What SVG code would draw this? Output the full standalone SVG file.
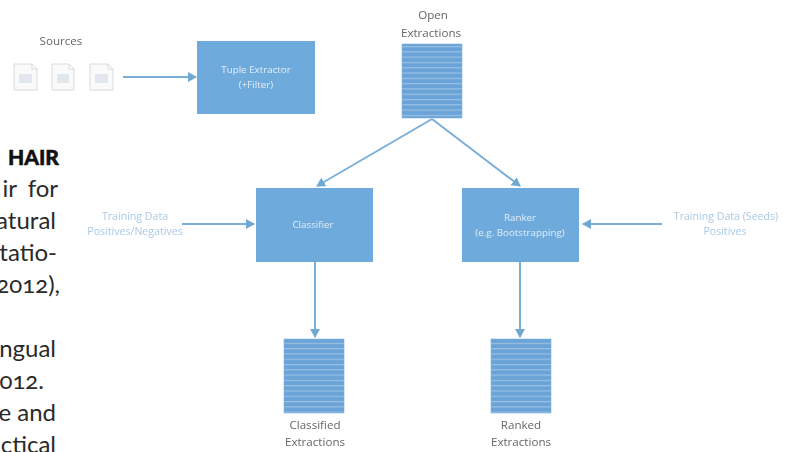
<svg xmlns="http://www.w3.org/2000/svg" width="795" height="452" viewBox="0 0 795 452">
<defs>
<marker id="ah" markerWidth="4.5" markerHeight="5" refX="4" refY="2.5" orient="auto" markerUnits="strokeWidth"><path d="M0 0L4.5 2.5L0 5z" fill="#6fa8d4"/></marker>
<pattern id="st" width="10" height="5.3" patternUnits="userSpaceOnUse"><rect width="10" height="5.3" fill="#69a3d7"/><rect y="3.6" width="10" height="1.1" fill="#a0c4e4"/></pattern>
<filter id="b" x="-10%" y="-20%" width="120%" height="140%"><feGaussianBlur stdDeviation="0.55"/></filter>
</defs>
<style>
.t{font-family:"Open Sans","Liberation Sans",sans-serif;font-size:11.6px;text-anchor:middle;fill:#666}
.w{fill:#e3eef8;font-size:9.8px}
.l{fill:#a9c9e6;font-size:10.6px}
.box{fill:#6eaadc}
.stack{fill:url(#st);stroke:#7fb2dd;stroke-width:.6}
.c{stroke:#7aafd9;stroke-width:2;fill:none;marker-end:url(#ah)}
.doc{fill:#fafafa;stroke:#dadada;stroke-width:1}
.in{fill:#e1e7ec}
.body{font-family:"Lato","Liberation Sans",sans-serif;font-size:24px;fill:#2a2a2a;text-anchor:end;font-feature-settings:"onum"}
</style>
<rect width="795" height="452" fill="#fff"/>
<g id="page-text">
<text x="59" y="165" text-anchor="end" font-family="Lato,'Liberation Sans',sans-serif" font-size="21" font-weight="900" fill="#111" stroke="#111" stroke-width=".5">HAIR</text>
<text class="body" x="58" y="197" word-spacing="5">ir for</text>
<text class="body" x="56" y="229">atural</text>
<text class="body" x="57" y="261">tatio-</text>
<text class="body" x="60" y="293">2012),</text>
<text class="body" x="56" y="357">ngual</text>
<text class="body" x="44" y="389">012.</text>
<text class="body" x="56" y="421">e and</text>
<text class="body" x="56" y="453">ctical</text>
</g>
<g id="connectors" filter="url(#b)">
<path class="c" d="M123 77H196"/>
<path class="c" d="M432 119L317 186"/>
<path class="c" d="M432 119L520 186"/>
<path class="c" d="M182 224H254"/>
<path class="c" d="M662 224H583"/>
<path class="c" d="M315 262V337"/>
<path class="c" d="M520 262V337"/>
</g>
<g id="sources" filter="url(#b)"><text class="t" x="61" y="45">Sources</text></g>
<g id="doc1" filter="url(#b)"><path class="doc" d="M14 64H32L37 69V90H14zM32 64V69H37"/><rect class="in" x="19" y="74" width="13" height="9"/></g>
<g id="doc2" filter="url(#b)"><path class="doc" d="M52 64H69L74 69V90H52zM69 64V69H74"/><rect class="in" x="57" y="74" width="12" height="9"/></g>
<g id="doc3" filter="url(#b)"><path class="doc" d="M90 64H108L113 69V90H90zM108 64V69H113"/><rect class="in" x="95" y="74" width="13" height="9"/></g>
<g id="tuple-extractor" filter="url(#b)"><rect class="box" x="197" y="41" width="118" height="73"/><text class="t w" x="256" y="73">Tuple Extractor</text><text class="t w" x="256" y="88">(+Filter)</text></g>
<g id="open-extractions" filter="url(#b)"><text class="t" x="433" y="19">Open</text><text class="t" x="431" y="37">Extractions</text><rect class="stack" x="402" y="44" width="60" height="74"/></g>
<g id="classifier" filter="url(#b)"><rect class="box" x="256" y="188" width="117" height="74"/><text class="t w" x="313" y="228">Classifier</text></g>
<g id="ranker" filter="url(#b)"><rect class="box" x="462" y="188" width="117" height="74"/><text class="t w" x="520" y="221">Ranker</text><text class="t w" x="520" y="236">(e.g. Bootstrapping)</text></g>
<g id="training-left" filter="url(#b)"><text class="t l" x="135" y="220">Training Data</text><text class="t l" x="135" y="235">Positives/Negatives</text></g>
<g id="training-right" filter="url(#b)"><text class="t l" x="726" y="220">Training Data (Seeds)</text><text class="t l" x="725" y="235">Positives</text></g>
<g id="classified-extractions" filter="url(#b)"><rect class="stack" x="284" y="339" width="60" height="74"/><text class="t" x="315" y="429">Classified</text><text class="t" x="315" y="446">Extractions</text></g>
<g id="ranked-extractions" filter="url(#b)"><rect class="stack" x="491" y="339" width="60" height="74"/><text class="t" x="521" y="429">Ranked</text><text class="t" x="521" y="446">Extractions</text></g>
</svg>
